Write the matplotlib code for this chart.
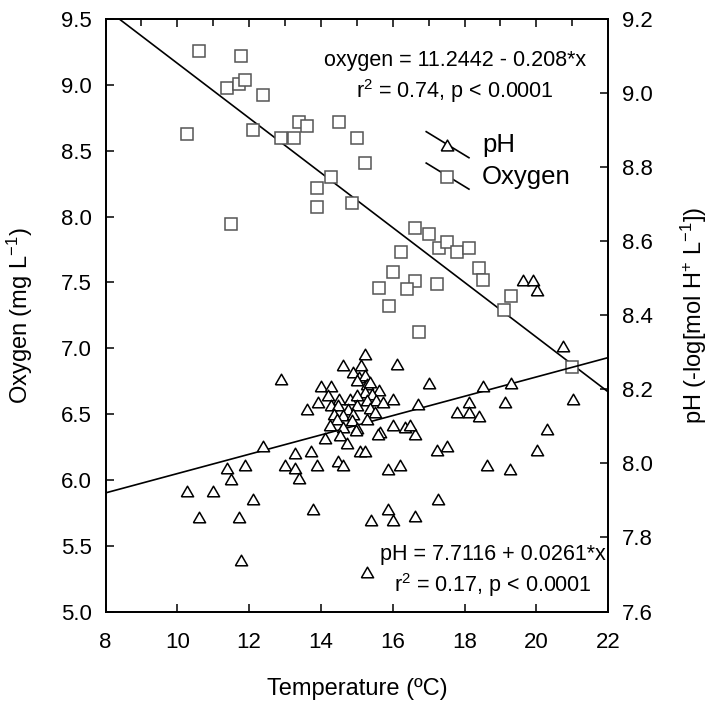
import numpy as np
import matplotlib
matplotlib.use('Agg')
import matplotlib.pyplot as plt

plt.rcParams['font.family'] = ['Liberation Sans', 'DejaVu Sans']
plt.rcParams['mathtext.fontset'] = 'custom'
plt.rcParams['mathtext.rm'] = 'Liberation Sans'
plt.rcParams['mathtext.it'] = 'Liberation Sans:italic'

# oxygen samples (squares, left axis)
temp_oxy = [10.60, 11.77, 11.38, 11.71, 11.89, 12.39, 10.26, 12.10, 13.38, 13.60,
            14.50, 12.89, 13.26, 15.00, 15.23, 14.27, 13.88, 13.88, 14.87, 11.49,
            16.62, 17.01, 17.28, 17.50, 17.78, 18.12, 16.23, 16.00, 15.62, 16.62,
            16.39, 17.22, 15.89, 16.73, 18.39, 18.51, 19.28, 19.10, 21.00]
oxygen = [9.26, 9.22, 8.98, 9.01, 9.04, 8.92, 8.63, 8.66, 8.72, 8.69,
          8.72, 8.60, 8.60, 8.60, 8.41, 8.30, 8.22, 8.07, 8.10, 7.94,
          7.91, 7.87, 7.76, 7.81, 7.73, 7.76, 7.73, 7.58, 7.46, 7.51,
          7.45, 7.49, 7.32, 7.12, 7.61, 7.52, 7.40, 7.29, 6.86]

# pH samples (triangles, right axis)
temp_ph = [10.26, 10.60, 10.99, 11.38, 11.49, 11.72, 11.89, 12.10, 11.77, 12.38,
           12.88, 13.00, 13.28, 13.28, 13.40, 13.72, 13.88, 13.77, 13.60, 13.91,
           13.99, 14.27, 14.61, 14.89, 15.11, 15.23, 16.11, 15.07, 15.23, 15.01,
           15.28, 15.37, 15.63, 15.23, 15.42, 14.21, 14.51, 14.81, 15.01, 15.28,
           15.53, 15.74, 16.00, 14.27, 14.48, 14.74, 15.01, 15.37, 15.51, 14.35,
           14.62, 14.90, 14.44, 14.86, 15.28, 14.25, 14.61, 15.00, 16.00, 16.34,
           15.65, 14.11, 14.53, 14.72, 14.98, 15.60, 14.48, 14.61, 15.09, 15.23,
           15.88, 16.20, 16.62, 17.23, 17.50, 17.00, 18.51, 19.29, 16.71, 18.11,
           19.13, 17.78, 18.11, 18.40, 20.29, 20.01, 18.62, 19.27, 17.27, 15.88,
           16.02, 15.39, 16.62, 15.28, 19.62, 19.90, 20.01, 20.74, 21.01, 16.48]
ph = [7.925, 7.855, 7.925, 7.987, 7.959, 7.855, 7.996, 7.905, 7.738, 8.046,
      8.229, 7.996, 8.028, 7.988, 7.961, 8.033, 7.996, 7.878, 8.148, 8.166,
      8.208, 8.208, 8.267, 8.247, 8.265, 8.295, 8.268, 8.233, 8.238, 8.224,
      8.215, 8.220, 8.197, 8.193, 8.188, 8.184, 8.175, 8.175, 8.184, 8.170,
      8.170, 8.166, 8.175, 8.157, 8.159, 8.148, 8.157, 8.151, 8.139, 8.134,
      8.130, 8.134, 8.121, 8.116, 8.121, 8.103, 8.099, 8.096, 8.105, 8.099,
      8.085, 8.069, 8.076, 8.055, 8.089, 8.080, 8.006, 7.995, 8.033, 8.033,
      7.986, 7.996, 8.080, 8.035, 8.046, 8.218, 8.209, 8.218, 8.161, 8.166,
      8.166, 8.139, 8.139, 8.127, 8.094, 8.035, 7.997, 7.986, 7.905, 7.878,
      7.846, 7.846, 7.858, 7.706, 8.495, 8.495, 8.468, 8.316, 8.175, 8.105]

# regression coefficients (intercept, slope)
oxy_fit = (11.2442, -0.208)
ph_fit = (7.7116, 0.0261)

# equilateral triangle marker
tri = [(-1, -0.866), (1, -0.866), (0, 0.866), (-1, -0.866)]

fig = plt.figure(figsize=(7.13, 7.07), dpi=100)
ax = fig.add_axes([0.148, 0.135, 0.705, 0.838])
ax2 = ax.twinx()

xs = np.array([8, 22])
ax.plot(xs, oxy_fit[0] + oxy_fit[1] * xs, color='black', lw=1.2, zorder=2)
ax.plot(temp_oxy, oxygen, ls='none', marker='s', ms=9.3, mfc='white',
        mec='#555555', mew=1.1, zorder=3)

ax2.plot(xs, ph_fit[0] + ph_fit[1] * xs, color='black', lw=1.2, zorder=2)
ax2.plot(temp_ph, ph, ls='none', marker=tri, ms=8.8, mfc='white',
         mec='black', mew=1.1, zorder=3)

ax.set_xlim(8, 22)
ax.set_ylim(5.0, 9.5)
ax2.set_ylim(7.6, 9.2)
ax.set_xticks(np.arange(8, 23, 2))
ax.set_xticks(np.arange(9, 22, 2), minor=True)
ax.set_yticks(np.arange(5.0, 9.51, 0.5))
ax.set_yticklabels(['%.1f' % v for v in np.arange(5.0, 9.51, 0.5)])
ax2.set_yticks(np.arange(7.6, 9.21, 0.2))
ax2.set_yticklabels(['%.1f' % v for v in np.arange(7.6, 9.21, 0.2)])

ax.tick_params(axis='x', which='major', direction='in', top=True, length=6,
               width=1.1, labelsize=16, pad=15)
ax.tick_params(axis='x', which='minor', direction='in', top=True, bottom=False,
               length=5, width=1.1)
ax.tick_params(axis='y', direction='in', length=6, width=1.1, labelsize=16, pad=10)
ax2.tick_params(axis='y', direction='in', length=6, width=1.1, labelsize=16, pad=10)
for a in (ax, ax2):
    for s in a.spines.values():
        s.set_linewidth(1.3)

ax.set_xlabel('Temperature (ºC)', fontsize=17)
ax.set_ylabel('Oxygen (mg L$^{-1}$)', fontsize=17)
ax2.set_ylabel('pH (-log[mol H$^{+}$ L$^{-1}$])', fontsize=17)
ax.xaxis.set_label_coords(0.5, -0.112)
ax.yaxis.set_label_coords(-0.14, 0.5)
ax2.yaxis.set_label_coords(1.14, 0.5)

ax.text(0.696, 0.902, 'oxygen = 11.2442 - 0.208*x\nr$^{\\mathregular{2}}$ = 0.74, p < 0.0001',
        transform=ax.transAxes, ha='center', va='center', fontsize=15.5,
        linespacing=1.3)
ax.text(0.771, 0.0675, 'pH = 7.7116 + 0.0261*x\nr$^{\\mathregular{2}}$ = 0.17, p < 0.0001',
        transform=ax.transAxes, ha='center', va='center', fontsize=15.5,
        linespacing=1.3)

# legend drawn by hand: slanted line through the marker
for fy, mk, col, lab in [(0.787, tri, 'black', 'pH'), (0.734, 's', '#555555', 'Oxygen')]:
    ax.plot([0.638, 0.723], [fy + 0.023, fy - 0.021], color='black', lw=1.2,
            transform=ax.transAxes, zorder=4)
    ax.plot([0.68], [fy], marker=mk, ms=9, mfc='white', mec=col, mew=1.1,
            transform=ax.transAxes, zorder=5)
    ax.text(0.749, fy, lab, transform=ax.transAxes, ha='left', va='center',
            fontsize=18.5)

fig.savefig('out.png', dpi=100)
